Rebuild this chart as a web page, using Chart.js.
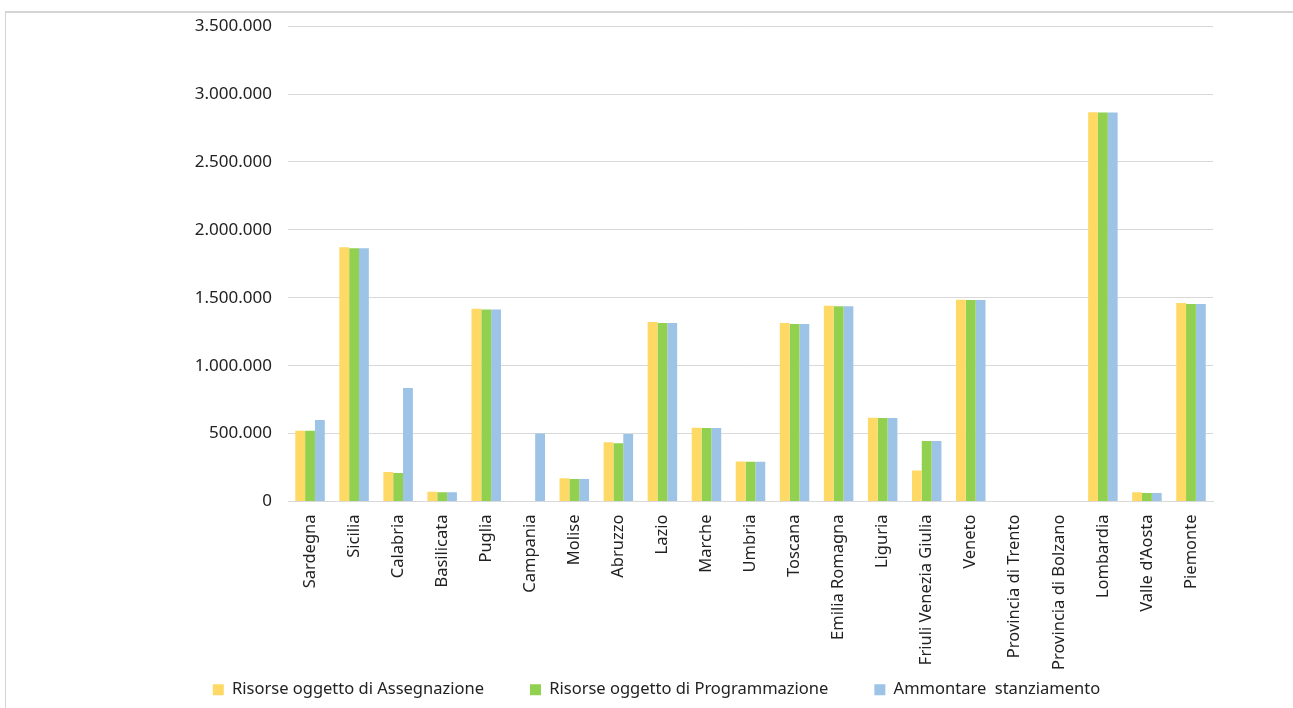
<!DOCTYPE html>
<html>
<head>
<meta charset="utf-8">
<script src="https://cdn.jsdelivr.net/npm/chart.js@4/dist/chart.umd.min.js"></script>
<style>
  html, body { margin: 0; padding: 0; background: #fff; }
  #wrap { position: relative; width: 1293px; height: 708px; overflow: hidden; }
  #frame { position: absolute; left: 5px; top: 11px; right: -2px; bottom: -2px;
    border-top: 2px solid #d4d4d4; border-left: 1px solid #d4d4d4; }
  canvas { position: absolute; left: 0; top: 0; }
</style>
</head>
<body>
<div id="wrap">
  <div id="frame"></div>
  <canvas id="c" width="1293" height="708"></canvas>
</div>
<script>
// regions (categories)
var regioni = ['Sardegna', 'Sicilia', 'Calabria', 'Basilicata', 'Puglia', 'Campania', 'Molise',
  'Abruzzo', 'Lazio', 'Marche', 'Umbria', 'Toscana', 'Emilia Romagna', 'Liguria',
  'Friuli Venezia Giulia', 'Veneto', 'Provincia di Trento', 'Provincia di Bolzano',
  'Lombardia', "Valle d'Aosta", 'Piemonte'];

var assegnazione = [521000, 1872000, 218000, 71000, 1420000, 0, 172000,
  436000, 1322000, 543000, 294000, 1314000, 1442000, 617000,
  228000, 1486000, 0, 0, 2866000, 69000, 1461000];

var programmazione = [521000, 1865000, 210000, 68000, 1413000, 0, 165000,
  429000, 1314000, 541000, 293000, 1307000, 1437000, 615000,
  446000, 1484000, 0, 0, 2864000, 62000, 1454000];

var stanziamento = [600000, 1865000, 835000, 68000, 1413000, 500000, 165000,
  497000, 1314000, 541000, 293000, 1307000, 1437000, 615000,
  446000, 1484000, 0, 0, 2864000, 62000, 1454000];

var yTicksMax = 3500000;
var yStep = 500000;

function fmt(v) {
  return String(v).replace(/\B(?=(\d{3})+(?!\d))/g, '.');
}

// legend sits a bit right of centre in the original
var legendShift = {
  id: 'legendShift',
  afterLayout: function(chart) {
    chart.legend.left += 50;
    chart.legend.right += 50;
  }
};

var ctx = document.getElementById('c').getContext('2d');
var chart = new Chart(ctx, {
  type: 'bar',
  data: {
    labels: regioni,
    datasets: [{
      label: 'Risorse oggetto di Assegnazione',
      data: assegnazione,
      backgroundColor: '#FFD966'
    }, {
      label: 'Risorse oggetto di Programmazione',
      data: programmazione,
      backgroundColor: '#92D050'
    }, {
      label: 'Ammontare  stanziamento',
      data: stanziamento,
      backgroundColor: '#9DC3E6'
    }]
  },
  plugins: [legendShift],
  options: {
    responsive: false,
    animation: false,
    layout: { padding: { left: 0, right: 80, top: 25, bottom: 0 } },
    datasets: { bar: { categoryPercentage: 0.67, barPercentage: 1.0 } },
    plugins: {
      tooltip: { enabled: false },
      legend: {
        position: 'bottom',
        labels: {
          font: { family: 'Noto Sans', size: 16.5 },
          color: '#222',
          boxWidth: 11,
          boxHeight: 11,
          padding: 46
        }
      }
    },
    scales: {
      x: {
        grid: { display: false },
        border: { color: '#d9d9d9', width: 1 },
        ticks: {
          autoSkip: false,
          minRotation: 90,
          maxRotation: 90,
          padding: 5,
          color: '#222',
          font: { family: 'Noto Sans', size: 16.5 }
        },
        afterFit: function(scale) {
          scale.height = 134;
          // long labels run into the legend band, don't clip them
          scale._computeLabelArea = function() {};
        }
      },
      y: {
        min: 0,
        max: yTicksMax,
        grid: { color: '#d9d9d9', drawTicks: false },
        border: { display: false },
        ticks: {
          stepSize: yStep,
          padding: 16,
          color: '#222',
          font: { family: 'Noto Sans', size: 17 },
          callback: function(v) { return fmt(v); }
        },
        afterFit: function(scale) { scale.width = 288; }
      }
    }
  }
});
</script>
</body>
</html>
